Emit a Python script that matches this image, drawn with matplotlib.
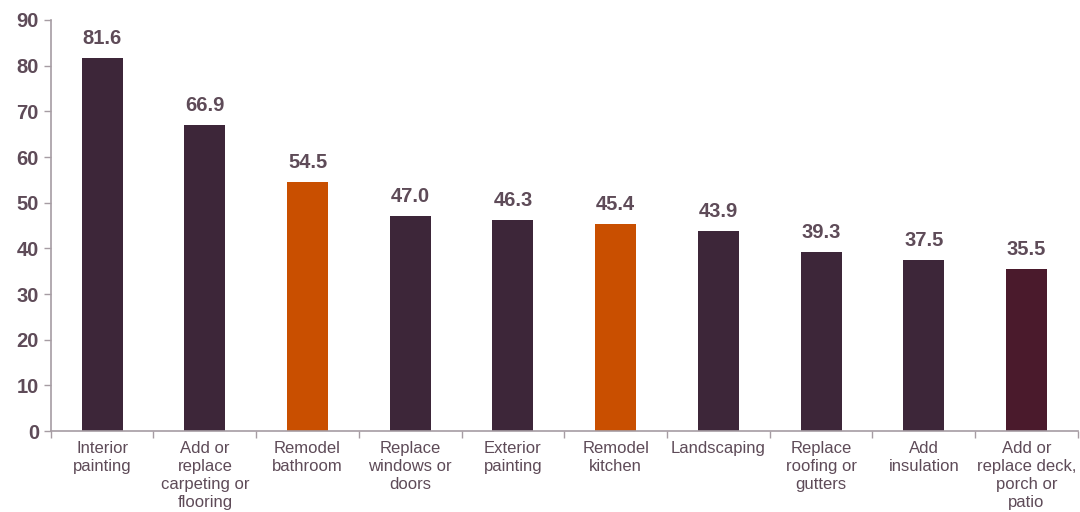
import matplotlib.pyplot as plt
import numpy as np

plt.rcParams['font.family'] = ['Liberation Sans', 'DejaVu Sans']

categories = ["Interior\npainting", "Add or\nreplace\ncarpeting or\nflooring", "Remodel\nbathroom",
              "Replace\nwindows or\ndoors", "Exterior\npainting", "Remodel\nkitchen", "Landscaping",
              "Replace\nroofing or\ngutters", "Add\ninsulation", "Add or\nreplace deck,\nporch or\npatio"]
values = [81.6, 66.9, 54.5, 47.0, 46.3, 45.4, 43.9, 39.3, 37.5, 35.5]
bar_colors = ["#3D2639", "#3D2639", "#C94F00", "#3D2639", "#3D2639", "#C94F00",
              "#3D2639", "#3D2639", "#3D2639", "#4A1A2C"]

text_color = "#5E4B58"
axis_color = "#A69CA3"

fig = plt.figure(figsize=(10.8, 5.12), dpi=100)
ax = fig.add_axes([0.047, 0.158, 0.951, 0.803])

x = np.arange(len(values))
ax.bar(x, values, width=0.4, color=bar_colors)

for xi, v in zip(x, values):
    ax.text(xi, v + 2.2, f"{v:.1f}", ha='center', va='bottom', fontsize=14.5,
            fontweight='bold', color=text_color)

ax.set_xlim(-0.5, len(values) - 0.5)
ax.set_ylim(0, 90)
ax.set_yticks(np.arange(0, 91, 10))
ax.tick_params(axis='y', labelsize=14.5, colors=axis_color, labelcolor=text_color, length=5, width=1)
for lbl in ax.get_yticklabels():
    lbl.set_fontweight('bold')

ax.set_xticks(x)
ax.set_xticklabels(categories, fontsize=12, color=text_color, linespacing=1.25)
ax.tick_params(axis='x', length=0, pad=7)
ax.set_xticks(np.arange(-0.5, len(values), 1), minor=True)
ax.tick_params(axis='x', which='minor', length=5, colors=axis_color, width=1)

for s in ['top', 'right']:
    ax.spines[s].set_visible(False)
for s in ['left', 'bottom']:
    ax.spines[s].set_color(axis_color)
    ax.spines[s].set_linewidth(1.2)

plt.savefig('out.png', dpi=100)
